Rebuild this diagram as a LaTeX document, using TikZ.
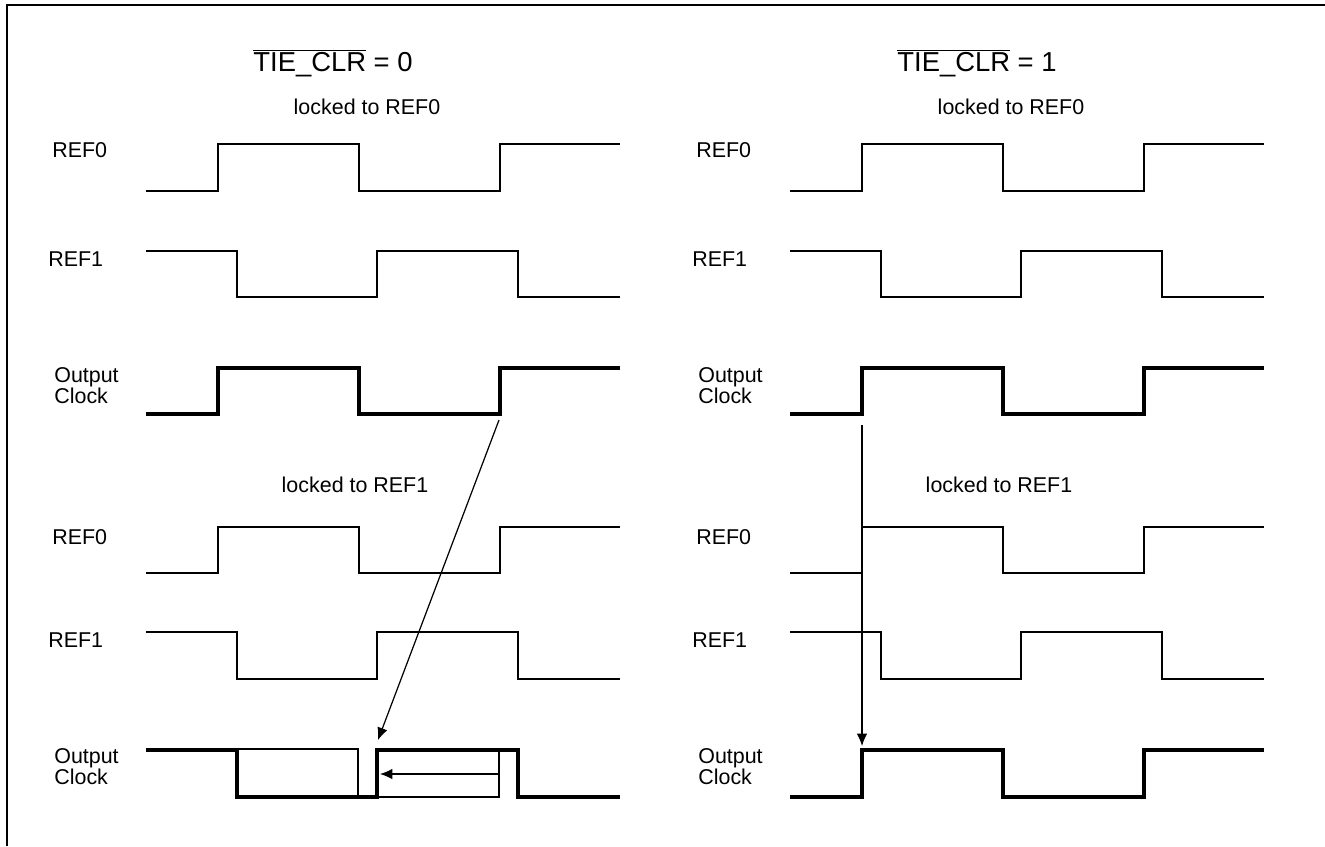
\documentclass[tikz,border=0pt]{standalone}
\usepackage{fontspec}
\setmainfont{Liberation Sans}
\usetikzlibrary{arrows.meta}
\newcommand{\sig}{\fontsize{12.2}{12}\selectfont}
\newcommand{\ttl}{\fontsize{15.6}{18}\selectfont}

\begin{document}
\begin{tikzpicture}[x=0.02cm, y=-0.02cm,
    every node/.style={inner sep=0pt, font=\sig},
    lbl/.style={anchor=west, align=left},
    wave/.style={line width=1.4pt},
    clk/.style={line width=2.8pt},
    win/.style={line width=1pt},
    move/.style={line width=0.7pt, -{Latex[length=7pt,width=6pt]}}]
    \useasboundingbox (0,0) rectangle (1325,846);
    \draw[line width=1.3pt] (7,846) -- (7,5) -- (1325,5);

    \begin{scope}
    \node[font=\ttl] (t1) at (333,63) {$\overline{\hbox{TIE\_CLR}}$ = 0};
    \node (lk01) at (367,107) {locked to REF0};
    \node (lk11) at (355,485) {locked to REF1};

    \node[lbl] (r0a1) at (52,150) {REF0};
    \node[lbl] (r1a1) at (48,259) {REF1};
    \node[lbl] (oa1) at (54,386) {Output\\Clock};
    \node[lbl] (r0b1) at (52,537) {REF0};
    \node[lbl] (r1b1) at (48,640) {REF1};
    \node[lbl] (ob1) at (54,767) {Output\\Clock};

    \draw[wave] (146,191) -| (218,144) -| (359,191) -| (500,144) -- (620,144);
    \draw[wave] (146,251) -| (237,297) -| (377,251) -| (518,297) -- (620,297);
    \draw[clk] (146,414) -| (218,368) -| (359,414) -| (500,368) -- (620,368);

    \draw[wave] (146,573) -| (218,527) -| (359,573) -| (500,527) -- (620,527);
    \draw[wave] (146,632) -| (237,679) -| (377,632) -| (518,679) -- (620,679);

    \draw[win] (237,749) rectangle (358,797);
    \draw[win] (377,749) rectangle (499,797);
    \draw[clk] (146,750) -| (237,797) -| (377,750) -| (518,797) -- (620,797);

    \coordinate (s1) at (499,420);
    \coordinate (e1) at (378,740);
    \coordinate (s2) at (499,774);
    \coordinate (e2) at (380,774);
    \draw[move] (s1) -- (e1);
    \draw[move] (s2) -- (e2);
    \end{scope}

    \begin{scope}[shift={(644,0)}]
    \node[font=\ttl] (t2) at (333,63) {$\overline{\hbox{TIE\_CLR}}$ = 1};
    \node (lk02) at (367,107) {locked to REF0};
    \node (lk12) at (355,485) {locked to REF1};

    \node[lbl] (r0a2) at (52,150) {REF0};
    \node[lbl] (r1a2) at (48,259) {REF1};
    \node[lbl] (oa2) at (54,386) {Output\\Clock};
    \node[lbl] (r0b2) at (52,537) {REF0};
    \node[lbl] (r1b2) at (48,640) {REF1};
    \node[lbl] (ob2) at (54,767) {Output\\Clock};

    \draw[wave] (146,191) -| (218,144) -| (359,191) -| (500,144) -- (620,144);
    \draw[wave] (146,251) -| (237,297) -| (377,251) -| (518,297) -- (620,297);
    \draw[clk] (146,414) -| (218,368) -| (359,414) -| (500,368) -- (620,368);

    \draw[wave] (146,573) -| (218,527) -| (359,573) -| (500,527) -- (620,527);
    \draw[wave] (146,632) -| (237,679) -| (377,632) -| (518,679) -- (620,679);
    \draw[clk] (146,797) -| (218,750) -| (359,797) -| (500,750) -- (620,750);

    \coordinate (s3) at (218,425);
    \coordinate (e3) at (218,746);
    \draw[move] (s3) -- (e3);
    \end{scope}
\end{tikzpicture}
\end{document}
